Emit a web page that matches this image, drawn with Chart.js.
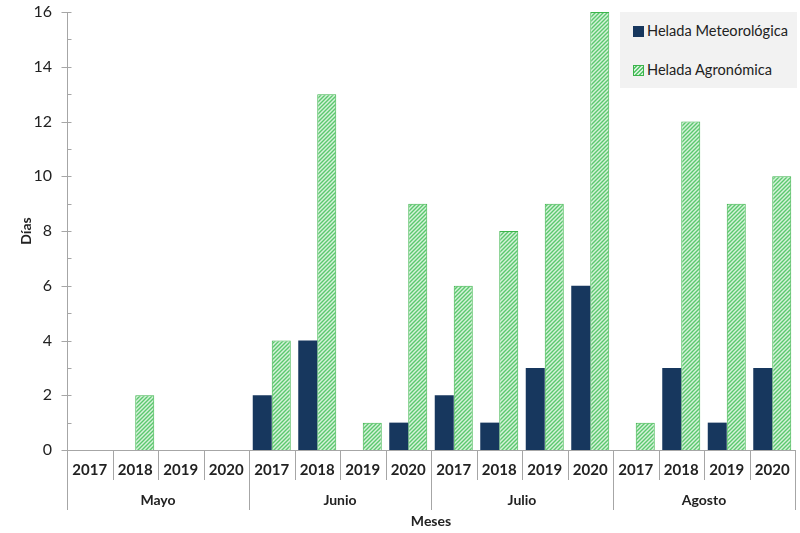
<!DOCTYPE html>
<html>
<head>
<meta charset="utf-8">
<script src="https://cdn.jsdelivr.net/npm/chart.js@4"></script>
<style>
  body { margin: 0; background: #fff; }
  #wrap { position: relative; width: 800px; height: 533px; }
  #legend {
    position: absolute; left: 620px; top: 12px; width: 177px; height: 76px;
    background: #f2f2f2; font-family: Lato, "Open Sans", sans-serif; font-size: 14.6px; color: #222;
  }
  #legend div { position: absolute; left: 13px; white-space: nowrap; }
  #legend span { display: inline-block; width: 11px; height: 11px; margin-right: 3px; vertical-align: -1px; }
  .met { background: #17375e; }
  .agr { border: 1px solid #3cb44b; width: 9px !important; height: 9px !important;
    background: repeating-linear-gradient(-45deg, #d6f2da 0 1.5px, #5bc86e 1.5px 3px); }
</style>
</head>
<body>
<div id="wrap">
  <canvas id="chart" width="800" height="533"></canvas>
  <div id="legend">
    <div style="top:10px"><span class="met"></span>Helada Meteorológica</div>
    <div style="top:49px"><span class="agr"></span>Helada Agronómica</div>
  </div>
</div>
<script>
const years = ["2017", "2018", "2019", "2020", "2017", "2018", "2019", "2020",
  "2017", "2018", "2019", "2020", "2017", "2018", "2019", "2020"];
const months = ["Mayo", "Junio", "Julio", "Agosto"];
const meteo = [0, 0, 0, 0, 2, 4, 0, 1, 2, 1, 3, 6, 0, 3, 1, 3];
const agro = [0, 2, 0, 0, 4, 13, 1, 9, 6, 8, 9, 16, 1, 12, 9, 10];
const yTicks = [0, 2, 4, 6, 8, 10, 12, 14, 16];

const font = "Lato, 'Open Sans', sans-serif";
const gray = "#a6a6a6";

// striped fill for the agronomic bars
function makeStripes() {
  const c = document.createElement("canvas");
  c.width = 4; c.height = 4;
  const g = c.getContext("2d");
  g.fillStyle = "#d6f2da";
  g.fillRect(0, 0, 4, 4);
  g.strokeStyle = "#5bc86e";
  g.lineWidth = 1.4;
  g.beginPath();
  g.moveTo(-1, 5); g.lineTo(5, -1);
  g.moveTo(-1, 1); g.lineTo(1, -1);
  g.moveTo(3, 5); g.lineTo(5, 3);
  g.stroke();
  return g.createPattern(c, "repeat");
}

const separators = {
  id: "separators",
  afterDraw(chart) {
    const ctx = chart.ctx;
    const x = chart.scales.x;
    const y = chart.scales.y;
    const w = (x.right - x.left) / years.length;
    ctx.save();
    ctx.strokeStyle = gray;
    ctx.lineWidth = 1;
    for (let i = 0; i <= years.length; i++) {
      const px = Math.round(x.left + i * w) + 0.5;
      ctx.beginPath();
      ctx.moveTo(px, x.top);
      ctx.lineTo(px, x.top + (i % 4 === 0 ? 60 : 30));
      ctx.stroke();
    }
    // y tick marks: majors cross the axis, minors inside
    const ax = Math.round(y.right) + 0.5;
    for (let v = 0; v <= 16; v++) {
      const py = Math.round(y.getPixelForValue(v)) + 0.5;
      ctx.beginPath();
      ctx.moveTo(v % 2 === 0 ? ax - 6 : ax, py);
      ctx.lineTo(ax + 4, py);
      ctx.stroke();
    }
    ctx.restore();
  }
};

new Chart(document.getElementById("chart"), {
  type: "bar",
  data: {
    labels: years,
    datasets: [
      {
        label: "Helada Meteorológica",
        data: meteo,
        backgroundColor: "#17375e",
        borderWidth: 0
      },
      {
        label: "Helada Agronómica",
        data: agro,
        backgroundColor: makeStripes(),
        borderColor: "#3cb44b",
        borderWidth: 1
      }
    ]
  },
  options: {
    responsive: false,
    animation: false,
    layout: { padding: { top: 0, right: 5, left: 0, bottom: 3 } },
    datasets: { bar: { categoryPercentage: 0.835, barPercentage: 1 } },
    plugins: { legend: { display: false }, tooltip: { enabled: false } },
    scales: {
      y: {
        min: 0,
        max: 16,
        afterBuildTicks: (s) => { s.ticks = yTicks.map(v => ({ value: v })); },
        afterFit: (s) => { s.width = 67; s.paddingTop = 12; },
        grid: { display: false },
        border: { color: gray },
        ticks: { color: "#222", font: { family: font, size: 16 }, padding: 7 },
        title: { display: true, text: "Días", color: "#222", font: { family: font, size: 14, weight: "bold" }, padding: { top: 18, bottom: 0 } }
      },
      x: {
        grid: { display: false },
        border: { color: gray },
        afterFit: (s) => { s.height = 30; },
        ticks: { color: "#222", font: { family: font, size: 15, weight: "bold" }, padding: 3, maxRotation: 0 }
      },
      x2: {
        type: "category",
        labels: months,
        position: "bottom",
        grid: { display: false },
        border: { display: false },
        afterFit: (s) => { s.height = 50; },
        ticks: { color: "#222", font: { family: font, size: 14, weight: "bold" }, padding: 4, maxRotation: 0 },
        title: { display: true, text: "Meses", color: "#222", font: { family: font, size: 14, weight: "bold" }, padding: 0 }
      }
    }
  },
  plugins: [separators]
});
</script>
</body>
</html>
